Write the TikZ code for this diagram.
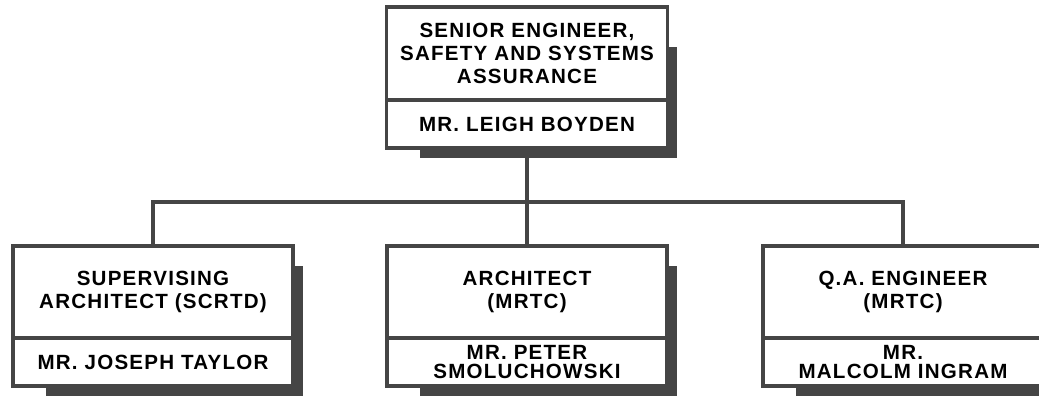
\documentclass[tikz,border=0pt]{standalone}
\usepackage{fontspec}
\setmainfont{Liberation Sans}[LetterSpace=6]
\usetikzlibrary{positioning,backgrounds}
\definecolor{ink}{HTML}{454545}
\newcommand{\orgshadow}[3]{%
  \fill[ink] ([shift={(.66,-#3)}]#1.north west) rectangle ([shift={(.19,-.2)}]#2.south east);}

\begin{document}
\begin{tikzpicture}[
  post/.style={draw=ink,line width=1.8pt,fill=white,inner sep=0pt,outer sep=0pt,
    minimum width=5.6cm,minimum height=1.84cm,align=center,
    font=\bfseries\fontsize{11.7}{13}\selectfont},
  holder/.style={post,minimum height=.96cm,font=\bfseries\fontsize{11.7}{11}\selectfont},
  link/.style={draw=ink,line width=2.2pt}]
  \useasboundingbox (0,0) rectangle (20.78,-7.96);
  % senior engineer on top
  \node[post,minimum width=5.62cm,minimum height=1.86cm] (boss) at (10.54,-1.07)
    {SENIOR ENGINEER,\\SAFETY AND SYSTEMS\\ASSURANCE};
  \node[holder,minimum width=5.62cm,below=0pt of boss] (leigh) {MR. LEIGH BOYDEN};
  % the three posts below
  \node[post] (supv) at (3.06,-5.84) {SUPERVISING\\ARCHITECT (SCRTD)};
  \node[holder,below=0pt of supv] (joseph) {MR. JOSEPH TAYLOR};
  \node[post] (arch) at (10.54,-5.84) {ARCHITECT\\(MRTC)};
  \node[holder,below=0pt of arch] (peter) {MR. PETER\\SMOLUCHOWSKI};
  \node[post] (qa) at (18.06,-5.84) {Q.A. ENGINEER\\(MRTC)};
  \node[holder,below=0pt of qa] (malcolm) {MR.\\MALCOLM INGRAM};
  \begin{scope}[on background layer]
    \orgshadow{boss}{leigh}{.8}
    \orgshadow{supv}{joseph}{.4}
    \orgshadow{arch}{peter}{.4}
    \orgshadow{qa}{malcolm}{.4}
  \end{scope}
  % lines
  \coordinate (bar) at (10.54,-4.04);
  \draw[link] (leigh) -- (arch);
  \draw[link] (supv) |- (bar) -| (qa);
\end{tikzpicture}
\end{document}
